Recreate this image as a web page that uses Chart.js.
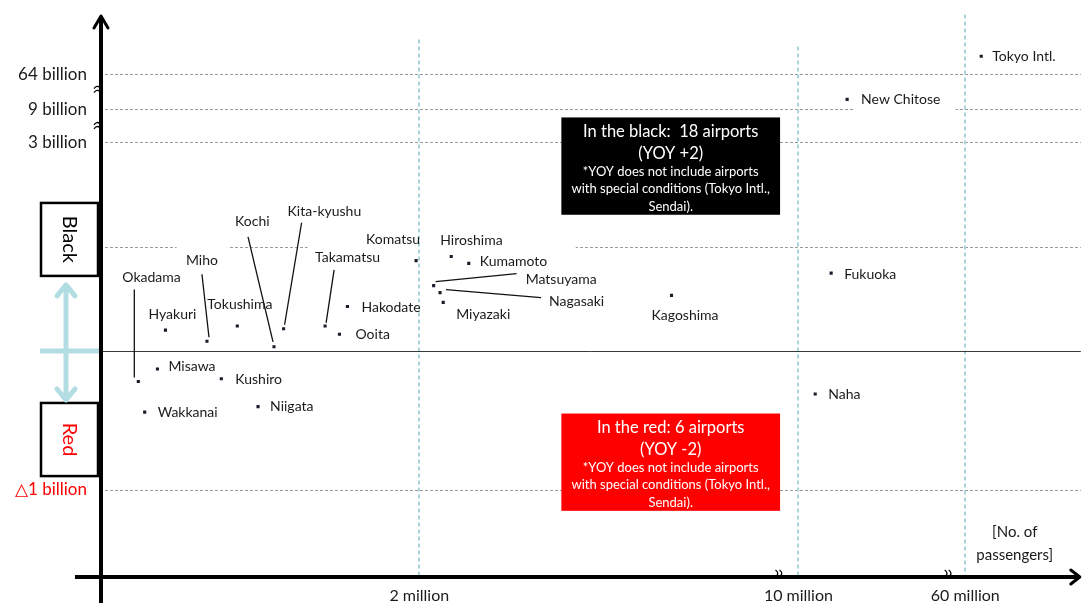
<!DOCTYPE html>
<html>
<head>
<meta charset="utf-8">
<script src="https://cdn.jsdelivr.net/npm/chart.js@4.4.0/dist/chart.umd.min.js"></script>
<style>
  html, body { margin: 0; padding: 0; background: #fff; }
  canvas { display: block; }
</style>
</head>
<body>
<canvas id="airportChart" width="1083" height="603"></canvas>
<script>
// Werte = Lage auf den gebrochenen Achsen
// x: "2 million" liegt bei 2, y: "△1 billion" liegt bei -1
const airports = ['Okadama', 'Hyakuri', 'Miho', 'Tokushima', 'Kochi', 'Kita-kyushu', 'Takamatsu',
  'Hakodate', 'Ooita', 'Komatsu', 'Hiroshima', 'Kumamoto', 'Matsuyama', 'Nagasaki', 'Miyazaki',
  'Kagoshima', 'Fukuoka', 'New Chitose', 'Tokyo Intl.', 'Misawa', 'Kushiro', 'Wakkanai', 'Niigata', 'Naha'];
const passengerPos = [0.24, 0.41, 0.67, 0.86, 1.09, 1.15, 1.41,
  1.55, 1.50, 1.98, 2.20, 2.31, 2.09, 2.13, 2.15,
  3.58, 4.58, 4.68, 5.52, 0.36, 0.76, 0.28, 0.99, 4.48];
const profitPos = [-0.22, 0.15, 0.07, 0.18, 0.03, 0.16, 0.18,
  0.32, 0.12, 0.65, 0.68, 0.63, 0.47, 0.42, 0.35,
  0.40, 0.56, 1.81, 2.12, -0.13, -0.20, -0.44, -0.40, -0.31];

const xTickVals = [2, 4.375, 5.42];
const xTickLabels = ['2 million', '10 million', '60 million'];
const yTickVals = [1.99, 1.74, 1.5, 0.75, 0, -1];
const yTickLabels = ['64 billion', '9 billion', '3 billion', '', '', '△1 billion'];
const xBreaks = [4.25, 5.31];
const yBreaks = [1.88, 1.62];

// Beschriftung: Versatz in px vom Punkt (links, Mitte), optional Hinweislinie
const labelOffsets = [
  { dx: -16, dy: -104, lead: [-4, -92, -4, -4] },
  { dx: -17, dy: -16 },
  { dx: -21, dy: -81, lead: [-5, -67, 2, -4] },
  { dx: -30, dy: -21 },
  { dx: -39, dy: -125, lead: [-26, -110, -1, -5] },
  { dx: 4, dy: -117, lead: [18, -106, 1, -4] },
  { dx: -10, dy: -68, lead: [9, -56, 1, -3] },
  { dx: 14, dy: 1 },
  { dx: 16, dy: 0 },
  { dx: -50, dy: -21 },
  { dx: -11, dy: -16 },
  { dx: 11, dy: -2 },
  { dx: 92, dy: -6, lead: [2, -4, 83, -12] },
  { dx: 109, dy: 9, lead: [6, -3, 101, 5] },
  { dx: 13, dy: 12 },
  { dx: -20, dy: 20 },
  { dx: 13, dy: 1 },
  { dx: 14, dy: 0 },
  { dx: 11, dy: 0 },
  { dx: 11, dy: -3 },
  { dx: 14, dy: 1 },
  { dx: 13, dy: 0 },
  { dx: 12, dy: 0 },
  { dx: 13, dy: 0 }
];

// Lücken in den Hilfslinien (hinter weißen Textfeldern)
const gridGaps = [
  { y: 0.75, from: 0.48, to: 0.80 },
  { y: 0.75, from: 1.30, to: 2.98 },
  { y: 1.74, from: 4.72, to: 5.36 }
];
const vLineTops = [2.24, 2.19, 2.42];

const summaryBoxes = [
  { x0: 2.89, x1: 4.26, y0: 1.68, y1: 0.98, fill: '#000000',
    lines: ['In the black:  18 airports', '(YOY +2)', '*YOY does not include airports', 'with special conditions (Tokyo Intl.,', 'Sendai).'] },
  { x0: 2.89, x1: 4.26, y0: -0.45, y1: -1.15, fill: '#ff0000',
    lines: ['In the red: 6 airports', '(YOY -2)', '*YOY does not include airports', 'with special conditions (Tokyo Intl.,', 'Sendai).'] }
];
const lineOffsets = [14, 36, 54, 71, 89];

const points = passengerPos.map((v, i) => ({ x: v, y: profitPos[i] }));

const FONT = 'Lato, "Open Sans", sans-serif';

const diagramPlugin = {
  id: 'diagram',
  beforeDatasetsDraw(chart) {
    const { ctx, chartArea: a, scales: { x, y } } = chart;
    ctx.save();
    // graue gestrichelte Linien
    ctx.strokeStyle = '#9a9a9a';
    ctx.lineWidth = 1;
    ctx.setLineDash([3, 2]);
    yTickVals.forEach(v => {
      if (v === 0) return;
      const py = Math.round(y.getPixelForValue(v)) + 0.5;
      ctx.beginPath();
      ctx.moveTo(a.left, py);
      ctx.lineTo(a.right, py);
      ctx.stroke();
    });
    ctx.setLineDash([]);
    ctx.fillStyle = '#fff';
    gridGaps.forEach(g => {
      const py = y.getPixelForValue(g.y);
      const x0 = x.getPixelForValue(g.from), x1 = x.getPixelForValue(g.to);
      ctx.fillRect(x0, py - 2, x1 - x0, 4);
    });
    // hellblaue senkrechte Linien
    ctx.strokeStyle = '#a9d6de';
    ctx.lineWidth = 2;
    ctx.setLineDash([4, 3]);
    xTickVals.forEach((v, i) => {
      const px = Math.round(x.getPixelForValue(v));
      ctx.beginPath();
      ctx.moveTo(px, y.getPixelForValue(vLineTops[i]));
      ctx.lineTo(px, a.bottom);
      ctx.stroke();
    });
    ctx.setLineDash([]);
    // Nulllinie
    const py0 = Math.round(y.getPixelForValue(0)) + 0.5;
    ctx.strokeStyle = '#3a3a3a';
    ctx.lineWidth = 1;
    ctx.beginPath();
    ctx.moveTo(a.left, py0);
    ctx.lineTo(a.right, py0);
    ctx.stroke();
    // Hinweislinien
    ctx.strokeStyle = '#111';
    ctx.lineWidth = 1.3;
    labelOffsets.forEach((o, i) => {
      if (!o.lead) return;
      const px = x.getPixelForValue(passengerPos[i]);
      const py = y.getPixelForValue(profitPos[i]);
      ctx.beginPath();
      ctx.moveTo(px + o.lead[0], py + o.lead[1]);
      ctx.lineTo(px + o.lead[2], py + o.lead[3]);
      ctx.stroke();
    });
    ctx.restore();
  },
  afterDraw(chart) {
    const { ctx, chartArea: a, scales: { x, y } } = chart;
    const ax = a.left + 1;
    const py0 = y.getPixelForValue(0);
    ctx.save();

    // Beschriftungen der Flughäfen
    ctx.font = '14px ' + FONT;
    ctx.fillStyle = '#1a1a1a';
    ctx.textAlign = 'left';
    ctx.textBaseline = 'middle';
    airports.forEach((name, i) => {
      const o = labelOffsets[i];
      const px = x.getPixelForValue(passengerPos[i]);
      const py = y.getPixelForValue(profitPos[i]);
      ctx.fillText(name, px + o.dx, py + o.dy);
    });

    // Kästen schwarz / rot
    summaryBoxes.forEach(b => {
      const x0 = x.getPixelForValue(b.x0), x1 = x.getPixelForValue(b.x1);
      const y0 = y.getPixelForValue(b.y0), y1 = y.getPixelForValue(b.y1);
      ctx.fillStyle = b.fill;
      ctx.fillRect(x0, y0, x1 - x0, y1 - y0);
      ctx.fillStyle = '#fff';
      ctx.textAlign = 'center';
      const cx = (x0 + x1) / 2;
      b.lines.forEach((t, k) => {
        ctx.font = (k < 2 ? '16.5px ' : '13px ') + FONT;
        ctx.fillText(t, cx, y0 + lineOffsets[k]);
      });
    });

    // linke Kästen "Black" / "Red"
    const boxes = [
      { top: 1.065, bottom: 0.54, text: 'Black', color: '#000' },
      { top: -0.374, bottom: -0.9, text: 'Red', color: '#ff0000' }
    ];
    boxes.forEach(b => {
      const t = y.getPixelForValue(b.top), bt = y.getPixelForValue(b.bottom);
      ctx.strokeStyle = '#000';
      ctx.lineWidth = 2.5;
      ctx.strokeRect(a.left - 59, t, 57, bt - t);
      ctx.save();
      ctx.translate(a.left - 31, (t + bt) / 2);
      ctx.rotate(Math.PI / 2);
      ctx.font = '20px ' + FONT;
      ctx.fillStyle = b.color;
      ctx.textAlign = 'center';
      ctx.textBaseline = 'middle';
      ctx.fillText(b.text, 0, 0);
      ctx.restore();
    });

    // hellblauer Doppelpfeil + Querbalken
    const arX = a.left - 34;
    const arTop = y.getPixelForValue(0.49), arBot = y.getPixelForValue(-0.367);
    ctx.strokeStyle = '#b2dde2';
    ctx.lineWidth = 5;
    ctx.lineCap = 'butt';
    ctx.beginPath();
    ctx.moveTo(a.left - 60, py0);
    ctx.lineTo(a.left, py0);
    ctx.moveTo(arX, arTop + 3);
    ctx.lineTo(arX, arBot - 3);
    ctx.stroke();
    ctx.lineCap = 'round';
    ctx.lineJoin = 'round';
    ctx.beginPath();
    ctx.moveTo(arX - 9, arTop + 13);
    ctx.lineTo(arX, arTop + 2);
    ctx.lineTo(arX + 9, arTop + 13);
    ctx.moveTo(arX - 9, arBot - 13);
    ctx.lineTo(arX, arBot - 2);
    ctx.lineTo(arX + 9, arBot - 13);
    ctx.stroke();

    // Achsen
    ctx.strokeStyle = '#000';
    ctx.lineWidth = 4;
    ctx.lineCap = 'butt';
    ctx.beginPath();
    ctx.moveTo(ax, chart.height);
    ctx.lineTo(ax, a.top + 2);
    ctx.moveTo(a.left - 25, a.bottom);
    ctx.lineTo(a.right - 2, a.bottom);
    ctx.stroke();
    ctx.lineWidth = 3;
    ctx.lineCap = 'round';
    ctx.beginPath();
    ctx.moveTo(ax - 7, a.top + 13);
    ctx.lineTo(ax, a.top + 1);
    ctx.lineTo(ax + 7, a.top + 13);
    ctx.moveTo(a.right - 10, a.bottom - 7);
    ctx.lineTo(a.right - 1, a.bottom);
    ctx.lineTo(a.right - 10, a.bottom + 7);
    ctx.stroke();

    // Achsenbrüche
    ctx.lineWidth = 1.3;
    ctx.lineCap = 'butt';
    yBreaks.forEach(v => {
      const py = y.getPixelForValue(v);
      [-2, 2].forEach(d => {
        ctx.beginPath();
        ctx.moveTo(ax - 7, py + d + 1);
        ctx.quadraticCurveTo(ax - 4, py + d - 3, ax - 1, py + d);
        ctx.stroke();
      });
    });
    xBreaks.forEach(v => {
      const px = x.getPixelForValue(v);
      [-2, 2].forEach(d => {
        ctx.beginPath();
        ctx.moveTo(px + d - 1, a.bottom - 7);
        ctx.quadraticCurveTo(px + d + 3, a.bottom - 4, px + d, a.bottom - 1);
        ctx.stroke();
      });
    });

    // Achsentitel rechts unten
    ctx.font = '15px ' + FONT;
    ctx.fillStyle = '#1a1a1a';
    ctx.textAlign = 'center';
    ctx.textBaseline = 'middle';
    const tx = x.getPixelForValue(5.73);
    ctx.fillText('[No. of', tx, y.getPixelForValue(-1.30));
    ctx.fillText('passengers]', tx, y.getPixelForValue(-1.47));

    ctx.restore();
  }
};

const config = {
  type: 'scatter',
  data: {
    datasets: [{
      label: 'airports',
      data: points,
      pointStyle: 'rect',
      pointRadius: 2.2,
      pointHoverRadius: 2.2,
      backgroundColor: '#1b1b2a',
      borderWidth: 0
    }]
  },
  options: {
    responsive: false,
    animation: false,
    layout: { padding: { top: 15, right: 0, bottom: 0, left: 0 } },
    plugins: { legend: { display: false }, tooltip: { enabled: false } },
    scales: {
      x: {
        type: 'linear',
        min: 0,
        max: 6.14375,
        afterFit: s => { s.height = 26; s.paddingLeft = 0; s.paddingRight = 0; },
        afterBuildTicks: s => { s.ticks = xTickVals.map(v => ({ value: v })); },
        ticks: {
          autoSkip: false,
          maxRotation: 0,
          padding: 9,
          color: '#1a1a1a',
          font: { family: FONT, size: 16 },
          callback: (v, i) => xTickLabels[i]
        },
        grid: { display: false, drawTicks: false },
        border: { display: false }
      },
      y: {
        type: 'linear',
        min: -1.626,
        max: 2.417,
        afterFit: s => { s.width = 100; s.paddingTop = 0; s.paddingBottom = 0; },
        afterBuildTicks: s => { s.ticks = yTickVals.map(v => ({ value: v })); },
        ticks: {
          autoSkip: false,
          padding: 13,
          color: ctx => (yTickLabels[ctx.index] || '').startsWith('△') ? '#ff0000' : '#1a1a1a',
          font: { family: FONT, size: 17 },
          callback: (v, i) => yTickLabels[i]
        },
        grid: { display: false, drawTicks: false },
        border: { display: false }
      }
    }
  },
  plugins: [diagramPlugin]
};

const myChart = new Chart(document.getElementById('airportChart'), config);
</script>
</body>
</html>
